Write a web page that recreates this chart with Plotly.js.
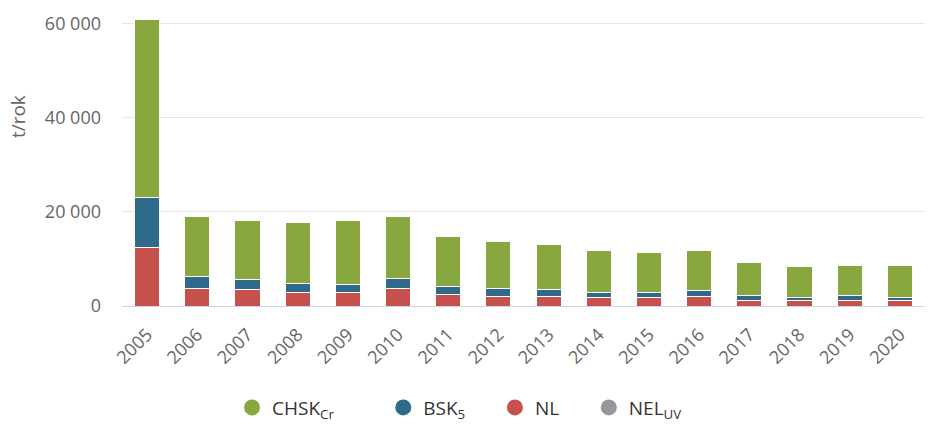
<!DOCTYPE html>
<html>
<head>
<meta charset="utf-8">
<script src="https://cdn.plot.ly/plotly-3.0.1.min.js"></script>
<style>
html,body{margin:0;padding:0;background:#fff;}
#chart{width:932px;height:424px;}
</style>
</head>
<body>
<div id="chart"></div>
<script>
const years = ['2005','2006','2007','2008','2009','2010','2011','2012','2013','2014','2015','2016','2017','2018','2019','2020'];
const nl    = [12400, 3800, 3500, 2800, 2800, 3800, 2500, 2100, 2100, 1800, 1800, 2100, 1100, 1100, 1100, 1100];
const bsk5  = [10600, 2400, 2100, 2000, 1700, 2100, 1700, 1700, 1400, 1100, 1100, 1100, 1100,  800, 1100,  800];
const chskCr= [37800,12700,12600,13000,13700,13000,10600,10000, 9600, 8800, 8500, 8500, 7100, 6400, 6400, 6700];
const nelUv = [0,0,0,0,0,0,0,0,0,0,0,0,0,0,0,0];
const yTicks = [0, 20000, 40000, 60000];
const yTitle = 't/rok';

const cGreen = '#88a83f', cBlue = '#2f6a8a', cRed = '#c5504c', cGray = '#94979b';
const names = {chsk:'CHSK<sub>Cr</sub>', bsk:'BSK<sub>5</sub>', nl:'NL', nel:'NEL<sub>UV</sub>'};
const pad = n => '\u00a0'.repeat(n);

function bar(y, color, name){
  return {type:'bar', x:years, y:y, name:name, marker:{color:color, line:{color:'#ffffff', width:1}},
          showlegend:false, hovertemplate:'%{x}: %{y}<extra>'+name+'</extra>'};
}
function leg(color, name){
  return {type:'scatter', mode:'markers', x:[null], y:[null], name:name,
          marker:{color:color, size:20, symbol:'circle'}, showlegend:true, hoverinfo:'skip'};
}
const data = [
  bar(nl, cRed, names.nl),
  bar(bsk5, cBlue, names.bsk),
  bar(chskCr, cGreen, names.chsk),
  bar(nelUv, cGray, names.nel),
  leg(cGreen, names.chsk + pad(9)),
  leg(cBlue, names.bsk + pad(5)),
  leg(cRed, names.nl + pad(5)),
  leg(cGray, names.nel)
];
const layout = {
  width:932, height:424,
  margin:{l:122, r:7, t:14, b:118, autoexpand:false},
  barmode:'stack', bargap:0.5,
  separators:'. ',
  paper_bgcolor:'#fff', plot_bgcolor:'#fff',
  font:{family:'"Open Sans", sans-serif', color:'#666666', size:18},
  xaxis:{type:'category', tickangle:-45, showgrid:false, zeroline:false, automargin:false,
         showline:true, linecolor:'#ccd6eb', linewidth:1, ticklabelstandoff:10,
         ticks:'', tickfont:{size:18, color:'#666666'}},
  yaxis:{range:[0, 62000], tickvals:yTicks, tickformat:',d', automargin:false,
         showgrid:true, gridcolor:'#e6e6e6', gridwidth:1, zeroline:false,
         ticklabelstandoff:20, tickfont:{size:18, color:'#666666'}},
  annotations:[{text:yTitle, xref:'paper', yref:'paper', x:-0.1295, y:0.647,
                xanchor:'center', yanchor:'middle', textangle:-90, showarrow:false,
                font:{size:19, color:'#666666'}}],
  legend:{orientation:'h', x:0.137, xanchor:'left', y:-0.348, yanchor:'middle',
          font:{size:19, color:'#333333'}, itemwidth:30, traceorder:'normal'},
  showlegend:true
};
Plotly.newPlot('chart', data, layout, {displayModeBar:false, staticPlot:true});
</script>
</body>
</html>
